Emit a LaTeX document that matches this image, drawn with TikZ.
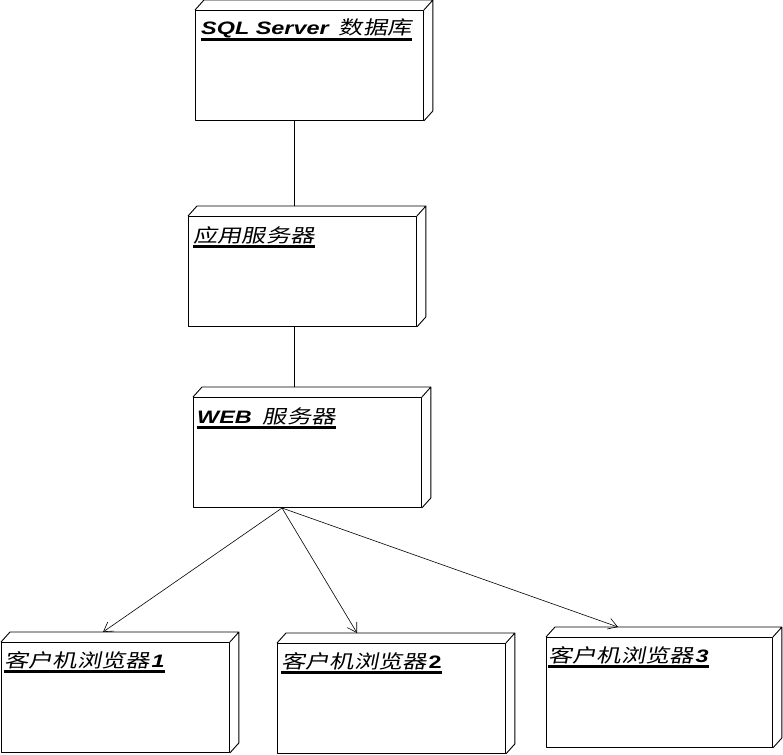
\documentclass[tikz,border=0pt]{standalone}
\usepackage{fontspec}
\setmainfont{Liberation Sans}[FakeStretch=1.3]
\newfontfamily\cjk{Noto Sans CJK SC}[FakeSlant=0.2,FakeStretch=1.3,Scale=1.04]
\usetikzlibrary{calc,arrows.meta}
\newcommand\threed[1]{%
  \draw[boxline] (#1.north west) -- ++(9,-10) -- ($(#1.north east)+(9,-10)$)
    -- ($(#1.south east)+(9,-10)$) -- (#1.south east)
    (#1.north east) -- ++(9,-10);}
\begin{document}
\begin{tikzpicture}[x=1pt,y=-1pt,
  boxline/.style={line width=0.9pt, line join=round},
  front/.style={draw, boxline, fill=white, minimum width=228pt, minimum height=110pt, inner sep=0pt, anchor=north west},
  title/.style={anchor=base west, inner sep=0pt, font=\fontsize{18}{20}\selectfont},
  uline/.style={line width=2.2pt},
  link/.style={line width=0.6pt},
  arr/.style={line width=0.6pt, -{Straight Barb[length=9pt,width=11pt]}}]
\useasboundingbox (0,0) rectangle (783,754);
\fill[white] (0,0) rectangle (783,754);

% nodes (front faces)
\node[front] (sql) at (195,10) {};
\node[front] (app) at (188,216) {};
\node[front] (web) at (193,397) {};
\node[front] (c1) at (1,642) {};
\node[front] (c2) at (277,643) {};
\node[front, minimum width=226pt] (c3) at (546,637) {};
\foreach \n in {sql,app,web,c1,c2,c3} {\threed{\n}}

% titles
\node[title] (sqlt) at (201,35) {{\bfseries\itshape SQL Server}\hspace*{10pt}{\cjk 数据库}};
\node[title] (appt) at (193,242) {\cjk 应用服务器};
\node[title] (webt) at (197,423) {{\bfseries\itshape WEB}\hspace*{11pt}{\cjk 服务器}};
\node[title] (c1t) at (4,667) {{\cjk 客户机浏览器}\hspace*{1.5pt}{\bfseries\itshape 1}};
\node[title] (c2t) at (281,668) {{\cjk 客户机浏览器}\hspace*{1.5pt}{\bfseries 2}};
\node[title] (c3t) at (548,662) {{\cjk 客户机浏览器}\hspace*{1.5pt}{\bfseries\itshape 3}};
\foreach \t in {sqlt,appt,webt,c1t,c2t,c3t} {
  \draw[uline] ([yshift=-4.5pt]\t.base west) -- ([yshift=-4.5pt]\t.base east);}

% connectors
\coordinate (axis) at (294,0);
\path (app.north west) ++(9,-10) coordinate (appbt);
\path (web.north west) ++(9,-10) coordinate (webbt);
\draw[link] (sql.south -| axis) -- (axis |- appbt);
\draw[link] (app.south -| axis) -- (axis |- webbt);

\coordinate (fan) at (282,508);
\draw[arr] (fan) -- ($(c1.north west)+(102,-10)$);
\draw[arr] (fan) -- ($(c2.north west)+(80,-10)$);
\draw[arr] (fan) -- ($(c3.north west)+(72,-10)$);
\end{tikzpicture}
\end{document}
